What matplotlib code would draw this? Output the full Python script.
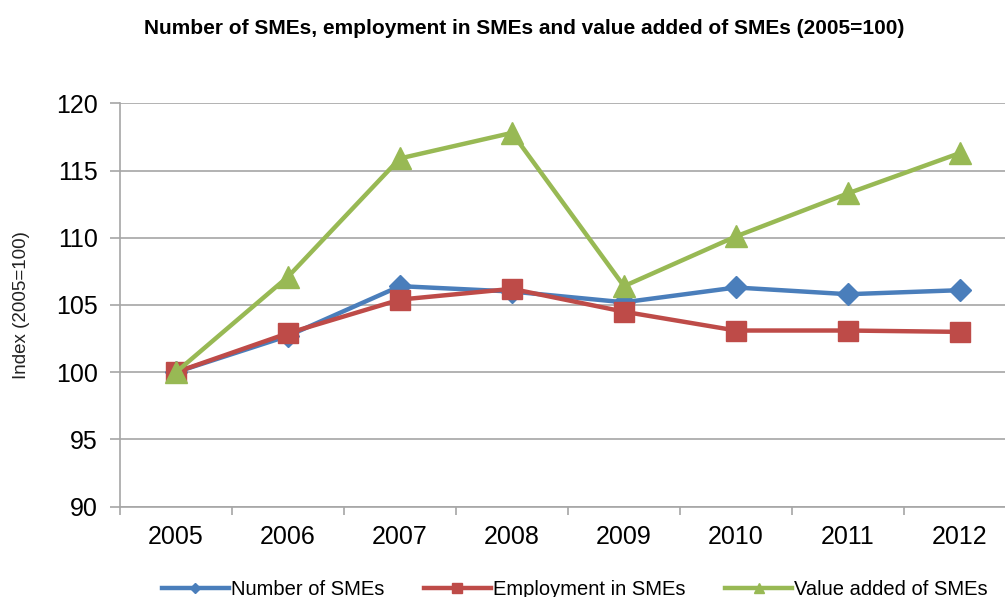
import matplotlib.pyplot as plt
from matplotlib.ticker import FixedLocator, NullFormatter

years = ["2005", "2006", "2007", "2008", "2009", "2010", "2011", "2012"]
number_smes = [100.0, 102.7, 106.4, 106.0, 105.2, 106.3, 105.8, 106.1]
employment_smes = [100.0, 102.9, 105.4, 106.2, 104.5, 103.1, 103.1, 103.0]
value_added_smes = [100.0, 107.1, 115.9, 117.8, 106.4, 110.1, 113.3, 116.3]

plt.rcParams["font.family"] = ["Liberation Sans", "DejaVu Sans"]

fig = plt.figure(figsize=(10.05, 5.97), dpi=100)
ax = fig.add_axes([0.1194, 0.1513, 0.8915, 0.6757])

x = list(range(len(years)))
ax.plot(x, number_smes, color="#4a7ebb", lw=3.2, marker="D", ms=11,
        label="Number of SMEs", zorder=3)
ax.plot(x, employment_smes, color="#be4b48", lw=3.2, marker="s", ms=14.5,
        label="Employment in SMEs", zorder=4)
ax.plot(x, value_added_smes, color="#98b954", lw=3.2, marker="^", ms=16,
        label="Value added of SMEs", zorder=5)

ax.set_xlim(-0.5, len(years) - 0.5)
ax.set_ylim(90, 120)
ax.set_yticks(range(90, 121, 5))
ax.grid(axis="y", color="#a6a6a6", lw=1.2)
ax.set_axisbelow(True)

# category labels sit between the boundary ticks
ax.xaxis.set_major_locator(FixedLocator([i - 0.5 for i in range(len(years) + 1)]))
ax.xaxis.set_major_formatter(NullFormatter())
ax.xaxis.set_minor_locator(FixedLocator(x))
ax.set_xticklabels(years, minor=True)
ax.tick_params(axis="x", which="major", length=6, color="#a6a6a6", width=1.2)
ax.tick_params(axis="x", which="minor", length=0, pad=13, labelsize=18)
ax.tick_params(axis="y", length=7, color="#a6a6a6", width=1.2, labelsize=18, pad=9)

for side in ["top", "right"]:
    ax.spines[side].set_visible(False)
for side in ["left", "bottom"]:
    ax.spines[side].set_color("#a6a6a6")
    ax.spines[side].set_linewidth(1.2)

ax.set_ylabel("Index (2005=100)", fontsize=13.5, color="#222222", labelpad=14)
ax.yaxis.set_label_coords(-0.1, 0.5)

fig.text(0.522, 0.953, "Number of SMEs, employment in SMEs and value added of SMEs (2005=100)",
         ha="center", va="center", fontsize=15, fontweight="bold")

leg = fig.legend(loc="lower center", bbox_to_anchor=(0.572, -0.033), ncol=3,
                 frameon=False, handlelength=3.3, handletextpad=0.1,
                 columnspacing=2.0, markerscale=0.45, fontsize=14.5)

fig.savefig("out.png", dpi=100)
